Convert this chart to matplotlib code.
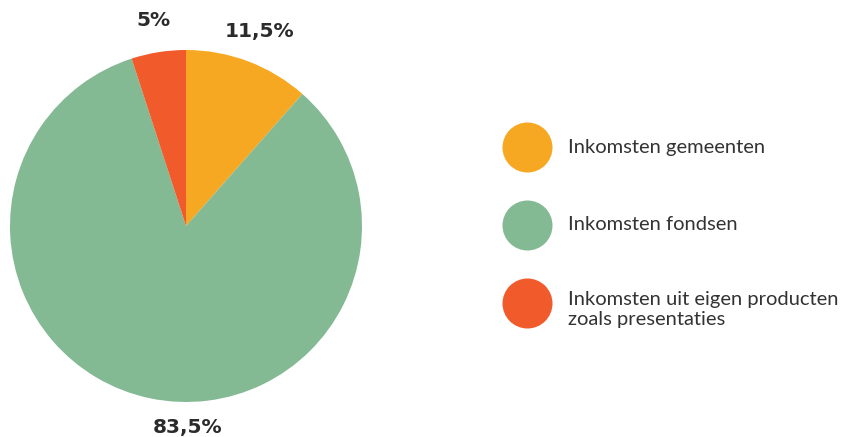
import matplotlib
matplotlib.use("Agg")
import matplotlib.pyplot as plt

categories = ["Inkomsten gemeenten", "Inkomsten fondsen",
              "Inkomsten uit eigen producten\nzoals presentaties"]
values = [11.5, 83.5, 5.0]
value_labels = ["11,5%", "83,5%", "5%"]
colors = ["#F7A823", "#84BA93", "#F15A2B"]

W, H = 844, 437
fig = plt.figure(figsize=(W / 100, H / 100), dpi=100)
ax = fig.add_axes([0, 0, 1, 1])

cx, cy, r = 186, H - 226, 176
wedges, texts = ax.pie(values, colors=colors, startangle=90, counterclock=False,
                       center=(cx, cy), radius=r, labels=value_labels,
                       labeldistance=1.18, frame=True,
                       wedgeprops=dict(linewidth=0),
                       textprops=dict(fontsize=14.5, fontweight="bold", color="#2b2b2b",
                                      family="DejaVu Sans"))
ax.set_xlim(0, W)
ax.set_ylim(0, H)
ax.axis("off")
for t in texts:
    t.set_ha("center")
    t.set_va("center")
# the large share's label sits straight below the pie
texts[1].set_position((cx + 2, cy - r - 26))

# legend
leg_x, leg_y0, leg_dy = 527, H - 147, 78
for i, (cat, col) in enumerate(zip(categories, colors)):
    y = leg_y0 - i * leg_dy
    ax.scatter([leg_x], [y], s=(36) ** 2, color=col, linewidths=0, zorder=3)
    if "\n" in cat:
        ax.text(568, y + 12, cat, ha="left", va="top", fontsize=14.5,
                family="Lato", color="#333333", linespacing=1.2)
    else:
        ax.text(568, y, cat, ha="left", va="center", fontsize=14.5,
                family="Lato", color="#333333")

fig.savefig("out.png", dpi=100)
